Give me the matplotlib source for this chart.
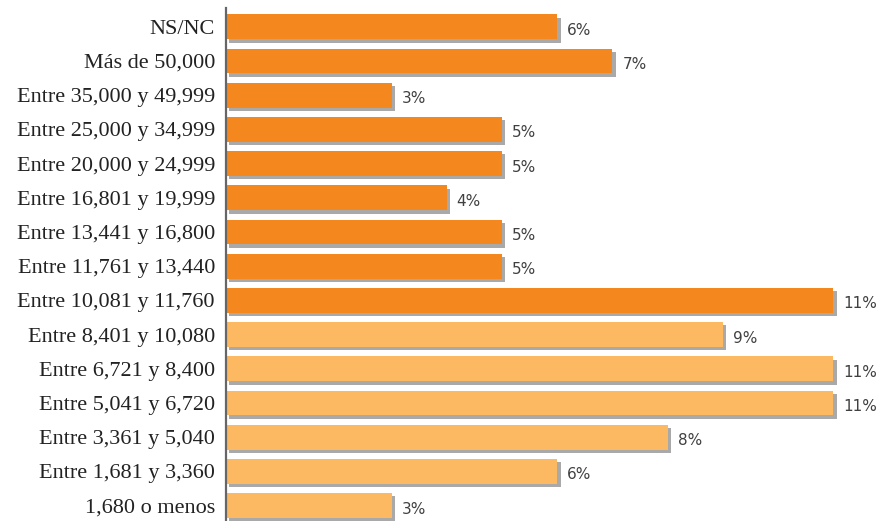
import matplotlib
matplotlib.use("Agg")
import matplotlib.pyplot as plt
import matplotlib.patheffects as pe

categories = [
    "NS/NC",
    "Más de 50,000",
    "Entre 35,000 y 49,999",
    "Entre 25,000 y 34,999",
    "Entre 20,000 y 24,999",
    "Entre 16,801 y 19,999",
    "Entre 13,441 y 16,800",
    "Entre 11,761 y 13,440",
    "Entre 10,081 y 11,760",
    "Entre 8,401 y 10,080",
    "Entre 6,721 y 8,400",
    "Entre 5,041 y 6,720",
    "Entre 3,361 y 5,040",
    "Entre 1,681 y 3,360",
    "1,680 o menos",
]
values = [6, 7, 3, 5, 5, 4, 5, 5, 11, 9, 11, 11, 8, 6, 3]
value_labels = ["6%", "7%", "3%", "5%", "5%", "4%", "5%", "5%", "11%",
                "9%", "11%", "11%", "8%", "6%", "3%"]
# upper income brackets in dark orange, lower ones in light orange
is_upper = [True] * 9 + [False] * 6

DARK = "#F5871F"
LIGHT = "#FCB962"

fig = plt.figure(figsize=(8.76, 5.21), dpi=100)
ax = fig.add_axes([226 / 876, 0, 650 / 876, 513 / 521])

colors = [DARK if u else LIGHT for u in is_upper]
pos = list(range(len(categories)))
bars = ax.barh(pos, values, height=0.73, color=colors, zorder=3)
shadow = [pe.SimplePatchShadow(offset=(2.4, -2.4), shadow_rgbFace="#555555", alpha=0.5),
          pe.Normal()]
for b in bars:
    b.set_path_effects(shadow)

for p, v, lab in zip(pos, values, value_labels):
    ax.text(v + 0.18, p + 0.1, lab, va="center", ha="left",
            fontsize=11, color="#404040", family="DejaVu Sans")

ax.set_xlim(0, 650 / 55.2)
ax.set_ylim(14.45, -0.55)
ax.set_yticks(pos)
ax.set_yticklabels(categories, family="Liberation Serif", fontsize=16, color="#222222")
ax.tick_params(axis="y", length=0, pad=8)
ax.set_xticks([])
for s in ["top", "right", "bottom"]:
    ax.spines[s].set_visible(False)
ax.spines["left"].set_color("#666666")
ax.spines["left"].set_linewidth(1.6)
ax.spines["left"].set_zorder(5)

fig.savefig("out.png", dpi=100)
